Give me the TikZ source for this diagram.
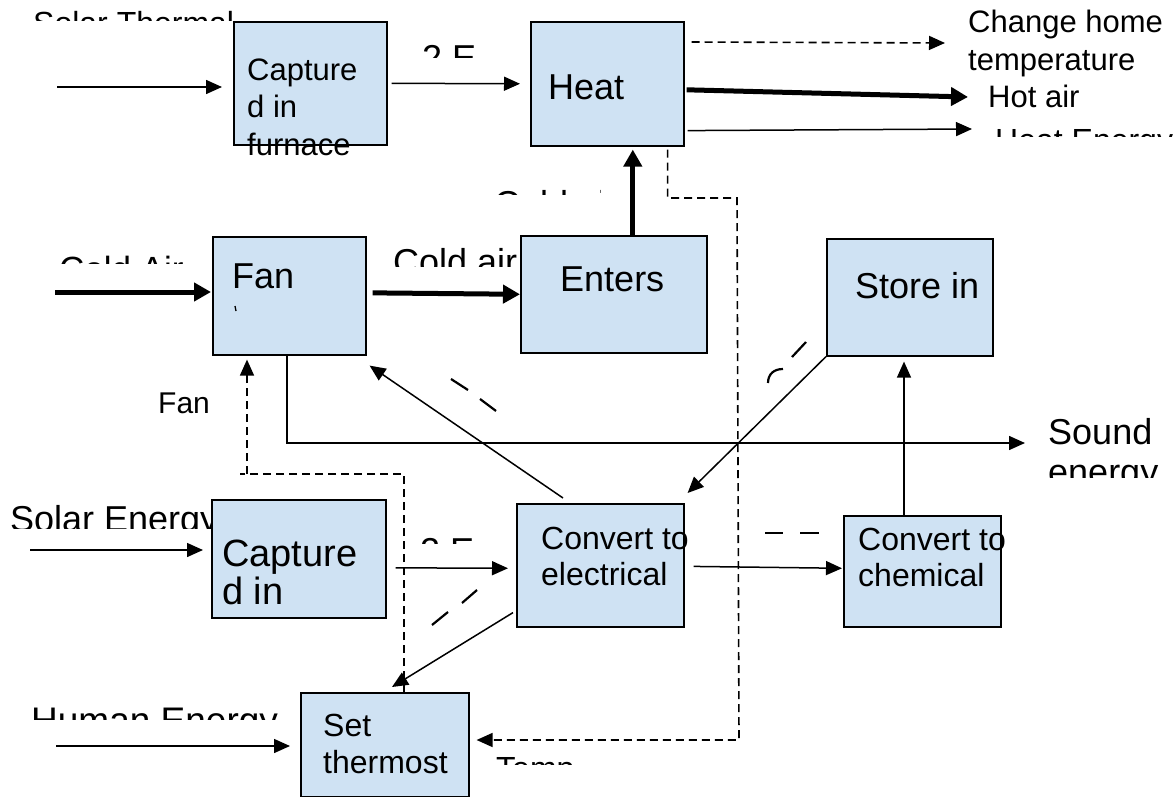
\documentclass[tikz,border=0pt]{standalone}
\usepackage{fontspec}
\setmainfont{Liberation Sans}
\usetikzlibrary{arrows.meta,calc}
\definecolor{boxblue}{RGB}{207,226,243}
\begin{document}
\begin{tikzpicture}[x=1pt,y=-1pt,
  box/.style={draw=black, line width=1.6pt, fill=boxblue, anchor=north west, inner sep=0pt},
  txt/.style={inner sep=0pt, anchor=base west},
  t30/.style={txt, font=\fontsize{30}{36}\selectfont},
  t31/.style={txt, font=\fontsize{31}{37}\selectfont},
  t32/.style={txt, font=\fontsize{32}{38}\selectfont},
  t35/.style={txt, font=\fontsize{35}{40}\selectfont},
  t36/.style={txt, font=\fontsize{36}{40}\selectfont},
  t37/.style={txt, font=\fontsize{37}{42}\selectfont},
  t38/.style={txt, font=\fontsize{38}{42}\selectfont},
  arr/.style={-{Triangle[length=16pt,width=14pt]}, line width=1.5pt},
  tarr/.style={-{Triangle[length=17pt,width=18pt]}, line width=5pt},
  dline/.style={line width=1.6pt, dash pattern=on 8pt off 5pt},
  darr/.style={arr, line width=1.6pt, dash pattern=on 8pt off 5pt},
  frag/.style={line width=2.2pt},
]
\useasboundingbox (0,0) rectangle (1175,797);
\fill[white] (0,0) rectangle (1175,797);

% labels partly hidden behind boxes
\begin{scope}
  \clip (0,490) rectangle (211,528);
  \node[t36] (lSE) at (10,531) {Solar Energy};
\end{scope}
\begin{scope}
  \clip (380,230) rectangle (520,266);
  \node[t36] (lCa2) at (393,274) {Cold air};
\end{scope}

% process boxes
\node[box, minimum width=153pt, minimum height=123pt] (cap1) at (233,21) {};
\node[box, minimum width=153pt, minimum height=124pt] (heat) at (530,21) {};
\node[box, minimum width=153pt, minimum height=118pt] (fan) at (212,236) {};
\node[box, minimum width=186pt, minimum height=117pt] (enters) at (520,235) {};
\node[box, minimum width=166pt, minimum height=117pt] (store) at (826,238) {};
\node[box, minimum width=174pt, minimum height=118pt] (cap2) at (211,499) {};
\node[box, minimum width=167pt, minimum height=123pt] (conv1) at (516,503) {};
\node[box, minimum width=157pt, minimum height=111pt] (conv2) at (843,515) {};
\node[box, minimum width=168pt, minimum height=104pt] (set) at (300,692) {};

% box texts
\node[t31] (cap1a) at (247,81) {Capture};
\node[t31] (cap1b) at (247,118) {d in};
\node[t31] (cap1c) at (247,155) {furnace};
\node[t36] (heatT) at (548,100) {Heat};
\node[t36] (fanT) at (232,288) {Fan};
\node[t36] (entT) at (560,291) {Enters};
\node[t36] (stoT) at (855,298) {Store in};
\node[t38] (cap2a) at (222,566) {Capture};
\node[t38] (cap2b) at (222,604) {d in};
\node[t32] (cv1a) at (541,549) {Convert to};
\node[t32] (cv1b) at (541,585) {electrical};
\node[t32] (cv2a) at (858,550) {Convert to};
\node[t32] (cv2b) at (858,586) {chemical};
\node[t32] (setA) at (323,736) {Set};
\node[t32] (setB) at (323,773) {thermost};

% free labels
\begin{scope}
  \clip (0,0) rectangle (232,21);
  \node[t32] (lST) at (33,35) {Solar Thermal};
\end{scope}
\begin{scope}
  \clip (400,0) rectangle (478,58);
  \node[t36] (lE1) at (422,71) {2 E};
\end{scope}
\node[t31] (chA) at (968,33) {Change home};
\node[t31] (chB) at (968,71) {temperature};
\node[t31] (hot) at (988,108) {Hot air};
\begin{scope}
  \clip (980,100) rectangle (1175,137);
  \node[t32] (heatE) at (995,151) {Heat Energy};
\end{scope}
\begin{scope}
  \clip (40,240) rectangle (210,263);
  \node[t35] (lCA) at (59,281) {Cold Air};
\end{scope}
\begin{scope}
  \clip (480,180) rectangle (600,194);
  \node[t36] (lCa3) at (494,216) {Cold air};
\end{scope}
\node[t30] (lFan) at (158,413) {Fan};
\node[t36] (sndA) at (1048,444) {Sound};
\begin{scope}
  \clip (1030,450) rectangle (1175,477);
  \node[t36] (sndB) at (1048,484) {energy};
\end{scope}
\begin{scope}
  \clip (400,520) rectangle (478,543);
  \node[t36] (lE2) at (420,563) {2 E};
\end{scope}
\begin{scope}
  \clip (0,690) rectangle (295,719);
  \node[t37] (lHE) at (31,733) {Human Energy};
\end{scope}
\begin{scope}
  \clip (480,740) rectangle (700,764);
  \node[t32] (lTemp) at (496,779) {Temp};
\end{scope}

% free ends of input arrows
\coordinate (inST) at (57,87);
\coordinate (inCA) at (55,292);
\coordinate (inSE) at (30,550);
\coordinate (inHE) at (56,746);

% top row
\draw[arr, shorten >=11pt] (inST) -- (inST -| cap1.west);
\draw[arr, shorten <=4pt, shorten >=10pt] (cap1.east) -- (heat.west);
\draw[darr] ($(heat.north east)+(7,21)$) -- ($(chA.base west)+(-23,10)$);
\draw[tarr] ($(heat.east)+(2,6)$) -- ($(hot.base west)+(-20,-11)$);
\draw[arr] ($(heat.south east)+(3,-16)$) -- ($(heatE.base west)+(-23,-22)$);

% middle row
\draw[tarr, shorten >=1pt] (inCA) -- (inCA -| fan.west);
\draw[tarr, shorten <=6pt] ($(fan.east)+(0,-3)$) -- (enters.west);
\coordinate (eh) at ($(enters.north)+(19,0)$);
\draw[tarr, shorten >=3pt] (eh) -- (eh |- heat.south);
\draw[arr] ($(fan.south west)+(75,0)$) |- ($(sndA.base west)+(-23,-1)$);
\draw[arr] ($(conv1.north west)+(47,-5)$) -- ($(fan.south east)+(3,10)$);
\draw[arr] (store.south west) -- ($(conv1.north east)+(3,-10)$);

% bottom row
\draw[arr, shorten >=8pt] (inSE) -- (inSE -| cap2.west);
\draw[arr, shorten <=9pt, shorten >=8pt] ($(cap2.east)+(0,9)$) -- ($(conv1.west)+(0,3)$);
\draw[arr, shorten <=9pt, shorten >=1pt] ($(conv1.east)+(0,1)$) -- ($(conv2.west)+(0,-3)$);
\coordinate (cs) at ($(conv2.north west)+(61,0)$);
\draw[arr, shorten >=5pt] (cs) -- (cs |- store.south);
\draw[arr] ($(conv1.south west)+(-3,-15)$) -- ($(set.north west)+(92,-5)$);
\draw[arr, shorten >=10pt] (inHE) -- (inHE -| set.west);

% dashed control lines
\coordinate (d1) at (737,198);
\coordinate (d2) at (739,740);
\draw[darr, shorten >=7pt] ($(heat.south east)+(-17,3)$) |- (d1) -- (d2) -- (d2 -| set.east);
\coordinate (f1) at (404,474);
\coordinate (f2) at (240,474);
\coordinate (f3) at (247,474);
\draw[dline] ($(set.north west)+(104,0)$) -- (f1) -- (f2);
\draw[darr, shorten >=4pt] (f3) -- (f3 |- fan.south);

% stray marks
\draw[line width=1.3pt] (235,306) -- (236,311);
\draw[frag] (451,379) -- (468,390);
\draw[frag] (480,399) -- (496,411);
\draw[frag] (768,383) .. controls (768,374) and (774,369) .. (783,369);
\draw[frag] (792,357) -- (806,342);
\draw[frag] (432,625) -- (448,612);
\draw[frag] (462,603) -- (477,590);
\draw[line width=1.5pt] (765,533) -- (783,533);
\draw[line width=1.5pt] (800,533) -- (819,533);
\end{tikzpicture}
\end{document}
